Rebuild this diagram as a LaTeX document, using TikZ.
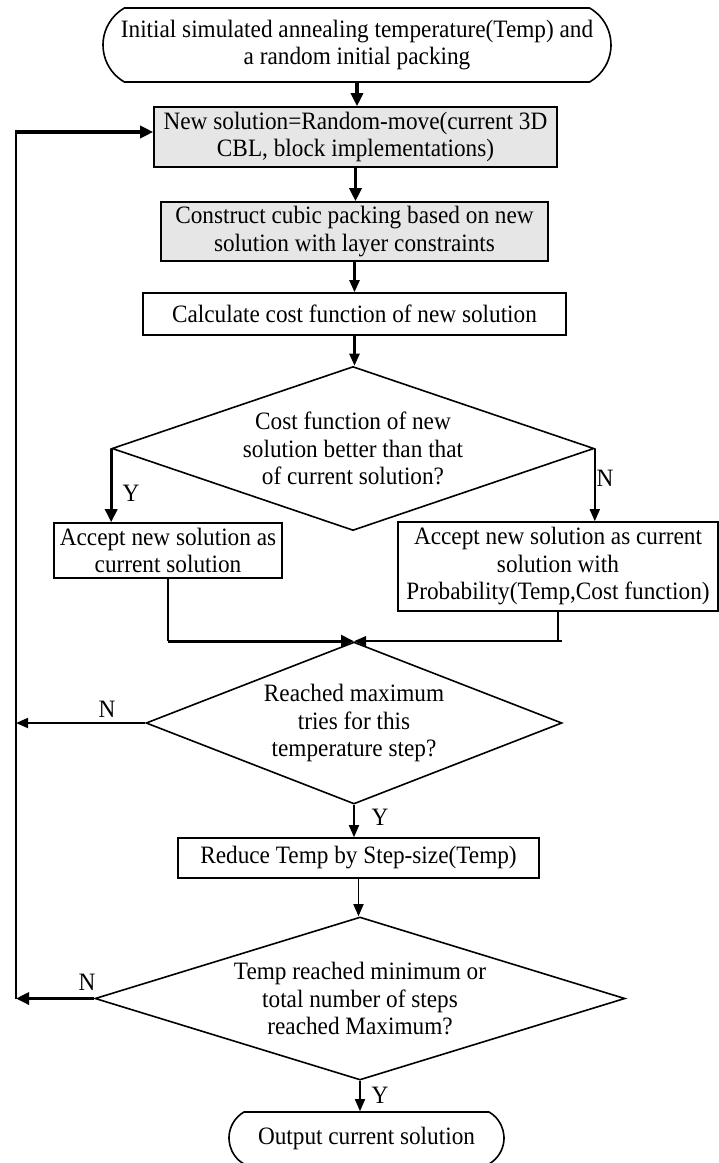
\documentclass[tikz,border=0pt]{standalone}
\usepackage{fontspec}
\setmainfont{Liberation Serif}[FakeStretch=0.93]
\usetikzlibrary{shapes.geometric,shapes.misc,arrows.meta}
\definecolor{boxgray}{RGB}{230,230,230}
\tikzset{
  txt/.style={font=\fontsize{25}{27.5}\selectfont, align=center},
  procbox/.style={txt, draw, rectangle, inner sep=0pt, line width=1.6pt},
  graybox/.style={procbox, fill=boxgray},
  term/.style={txt, draw, rounded rectangle, rounded rectangle arc length=120, inner sep=0pt, line width=1.6pt},
  decision/.style={draw, diamond, inner sep=0pt, line width=1.6pt},
  dtext/.style={txt, inner sep=0pt},
  lab/.style={font=\fontsize{25}{27.5}\selectfont, inner sep=0pt},
  conn/.style={line width=1.7pt},
  arr/.style={conn, -{Triangle[length=12pt,width=10pt]}},
  marr/.style={line width=2.4pt, -{Triangle[length=12pt,width=10pt]}},
  thk/.style={line width=3.2pt},
  tarr/.style={thk, -{Triangle[length=13pt,width=12pt]}}
}
\begin{document}
\begin{tikzpicture}[x=1pt,y=-1pt]
\useasboundingbox (0,0) rectangle (719,1163);
\node[term, minimum width=508pt, minimum height=74pt] (start) at (357,45) {Initial simulated annealing temperature(Temp) and\\a random initial packing};
\node[graybox, minimum width=403pt, minimum height=60pt] (b1) at (355.5,137) {New solution=Random-move(current 3D\\CBL, block implementations)};
\node[graybox, minimum width=387pt, minimum height=59pt] (b2) at (354.5,231.5) {Construct cubic packing based on new\\solution with layer constraints};
\node[procbox, minimum width=423pt, minimum height=42pt] (b3) at (354.5,314) {Calculate cost function of new solution};
\node[decision, minimum width=482pt, minimum height=164pt] (d1) at (353,448.5) {};
\node[dtext] (t1) at (d1.center) {Cost function of new\\solution better than that\\of current solution?};
\node[procbox, minimum width=228pt, minimum height=55pt] (b4) at (168,550.5) {Accept new solution as\\current solution};
\node[procbox, minimum width=320pt, minimum height=89pt] (b5) at (558,566.5) {Accept new solution as current\\solution with\\Probability(Temp,Cost function)};
\node[decision, minimum width=416pt, minimum height=162pt] (d2) at (354,723) {};
\node[dtext] (t2) at (d2.center) {Reached maximum\\tries for this\\temperature step?};
\node[procbox, minimum width=361pt, minimum height=40pt] (b6) at (358.5,858) {Reduce Temp by Step-size(Temp)};
\node[decision, minimum width=530pt, minimum height=163pt] (d3) at (360,998.5) {};
\node[dtext] (t3) at (d3.center) {Temp reached minimum or\\total number of steps\\reached Maximum?};
\node[term, minimum width=275pt, minimum height=52pt] (stop) at (366.5,1138) {Output current solution};

\coordinate (lb) at (16,998.5);
\coordinate (lt) at (16,132);
\coordinate (ml) at (b4.south |- d2.north);
\coordinate (mr) at (b5.south |- d2.north);

\draw[tarr] (start.south) -- (start.south |- b1.north);
\draw[tarr] (b1.south) -- (b1.south |- b2.north);
\draw[marr] (b2.south) -- (b2.south |- b3.north);
\draw[marr] (b3.south) -- (b3.south |- d1.north);
\draw[tarr] (d1.west) -- (d1.west |- b4.north);
\node[lab] (y1) at (131,493) {Y};
\draw[arr] (d1.east) -- (d1.east |- b5.north);
\node[lab] (n1) at (605,478) {N};
\draw[conn] (b4.south) -- (ml);
\draw[tarr] (ml) -- (d2.north);
\draw[conn] (b5.south) -- (mr) -- ++(4,0);
\draw[arr] (mr) -- (d2.north);
\draw[arr] (d2.west) -- (lb |- d2.west);
\node[lab] (n2) at (107,709) {N};
\draw[arr] (d2.south) -- (d2.south |- b6.north);
\node[lab] (y2) at (380,817) {Y};
\draw[arr] (b6.south) -- (b6.south |- d3.north);
\draw[tarr] (d3.west) -- (lb);
\node[lab] (n3) at (87,982) {N};
\draw[conn] (lb) -- (lt);
\draw[tarr] ([xshift=-0.8pt]lt) -- (b1.west |- lt);
\draw[arr] (d3.south) -- (d3.south |- stop.north);
\node[lab] (y3) at (380,1095) {Y};
\end{tikzpicture}
\end{document}
